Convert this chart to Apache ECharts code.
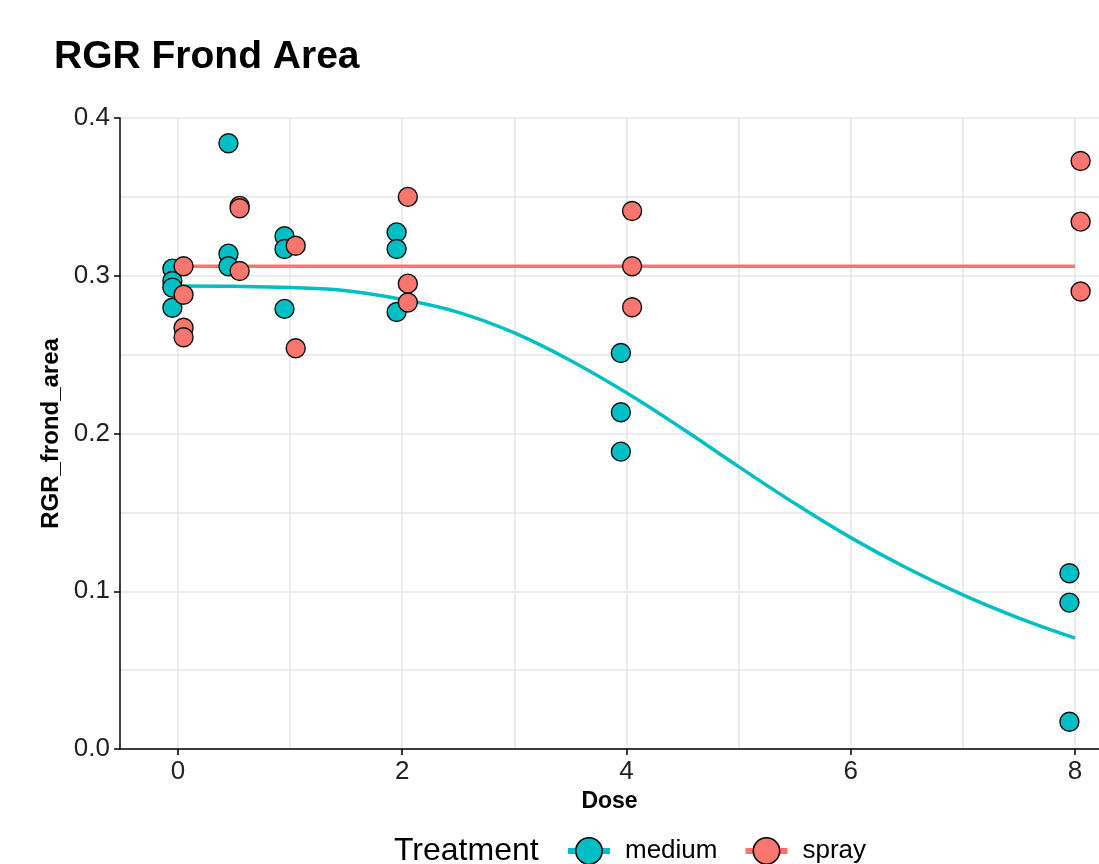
<!DOCTYPE html>
<html>
<head>
<meta charset="utf-8">
<script src="https://cdn.jsdelivr.net/npm/echarts@6/dist/echarts.min.js"></script>
<style>
html,body{margin:0;padding:0;background:#fff;}
#chart{width:1099px;height:864px;}
</style>
</head>
<body>
<div id="chart"></div>
<script>
// ---- data ----
var title = 'RGR Frond Area';
var xTickLabels = [0, 2, 4, 6, 8];
var xGrid = [0, 1, 2, 3, 4, 5, 6, 7, 8];
var yTickLabels = [0.0, 0.1, 0.2, 0.3, 0.4];

var mediumDose = [0, 0, 0, 0, 0.5, 0.5, 0.5, 1, 1, 1, 2, 2, 2, 4, 4, 4, 8, 8, 8];
var mediumRGR  = [0.3045, 0.2967, 0.2925, 0.2797, 0.384, 0.314, 0.306, 0.325, 0.317, 0.279,
                  0.3275, 0.317, 0.277, 0.251, 0.2135, 0.1885, 0.1114, 0.0928, 0.0173];

var sprayDose = [0, 0, 0, 0, 0.5, 0.5, 0.5, 1, 1, 2, 2, 2, 4, 4, 4, 8, 8, 8];
var sprayRGR  = [0.306, 0.288, 0.267, 0.261, 0.3443, 0.3428, 0.303, 0.319, 0.254,
                 0.350, 0.295, 0.283, 0.341, 0.306, 0.280, 0.3727, 0.3343, 0.290];

var mediumFitDose = [0, 0.5, 1, 1.5, 2, 2.5, 3, 3.5, 4, 4.5, 5, 5.5, 6, 6.5, 7, 7.5, 8];
var mediumFitRGR  = [0.2935, 0.2933, 0.2925, 0.2905, 0.2850, 0.2768, 0.2638, 0.2463, 0.2258,
                     0.2030, 0.1790, 0.1557, 0.1340, 0.1147, 0.0977, 0.0830, 0.0703];

var sprayFitDose = [0, 8];
var sprayFitRGR  = [0.306, 0.306];

var dodge = 0.05;
var colMedium = '#00BFC4';
var colSpray = '#F8766D';

function pairs(xs, ys, off) {
  return xs.map(function (x, i) { return [x + (off || 0), ys[i]]; });
}

var FONT = '"Liberation Sans", Arial, Helvetica, sans-serif';
var GRID = '#E6E6E6';
var chart = echarts.init(document.getElementById('chart'));
chart.setOption({
  backgroundColor: '#fff',
  animation: false,
  title: [
    { text: title, left: 49, top: 33,
      textStyle: { fontFamily: FONT, fontSize: 39, fontWeight: 'bold', color: '#000' } },
    { text: 'Treatment', left: 389, top: 830,
      textStyle: { fontFamily: FONT, fontSize: 32, fontWeight: 'normal', color: '#000' } }
  ],
  legend: {
    data: ['medium', 'spray'],
    left: 560, top: 832,
    orient: 'horizontal',
    itemWidth: 42, itemHeight: 33, itemGap: 25,
    lineStyle: { width: 6 },
    itemStyle: { borderColor: '#000', borderWidth: 1.5 },
    textStyle: { fontFamily: FONT, fontSize: 26, color: '#000', padding: [0, 0, 0, 10] }
  },
  grid: { left: 120, right: 0, top: 118, bottom: 115, containLabel: false },
  xAxis: [
    {
      type: 'value', min: -0.517, max: 8.214,
      name: 'Dose', nameLocation: 'middle', nameGap: 38,
      nameTextStyle: { fontFamily: FONT, fontSize: 23, fontWeight: 'bold', color: '#000' },
      axisLine: { show: true, onZero: false, lineStyle: { color: '#000', width: 1.5 } },
      axisTick: { show: false, customValues: xGrid },
      axisLabel: { customValues: xTickLabels, fontFamily: FONT, fontSize: 26, color: '#222', margin: 10,
                   formatter: function (v) { return String(Math.round(v)); } },
      splitLine: { show: true, lineStyle: { color: GRID, width: 1.5 } }
    },
    {
      type: 'value', min: -0.517, max: 8.214, position: 'bottom',
      axisLine: { show: false, onZero: false },
      axisTick: { show: true, customValues: xTickLabels, length: 6, lineStyle: { color: '#000', width: 1.5 } },
      axisLabel: { show: false },
      splitLine: { show: false }
    }
  ],
  yAxis: {
    type: 'value', min: 0, max: 0.4, interval: 0.1,
    name: 'RGR_frond_area', nameLocation: 'middle', nameGap: 47, nameRotate: 90,
    nameTextStyle: { fontFamily: FONT, fontSize: 24, fontWeight: 'bold', color: '#000' },
    axisLine: { show: true, onZero: false, lineStyle: { color: '#000', width: 1.5 } },
    axisTick: { show: true, length: 6, lineStyle: { color: '#000', width: 1.5 } },
    axisLabel: { fontFamily: FONT, fontSize: 26, color: '#222', margin: 10,
                 formatter: function (v) { return v.toFixed(1); } },
    splitLine: { show: true, lineStyle: { color: GRID, width: 1.5 } },
    minorTick: { show: false, splitNumber: 2 },
    minorSplitLine: { show: true, lineStyle: { color: GRID, width: 1.5 } }
  },
  series: [
    {
      name: 'medium', type: 'line', z: 2, smooth: 0.4,
      data: pairs(mediumFitDose, mediumFitRGR),
      symbol: 'circle', showSymbol: false, symbolSize: 18,
      itemStyle: { color: colMedium, borderColor: '#000', borderWidth: 1.5 },
      lineStyle: { color: colMedium, width: 3.5 }
    },
    {
      name: 'spray', type: 'line', z: 2,
      data: pairs(sprayFitDose, sprayFitRGR),
      symbol: 'circle', showSymbol: false, symbolSize: 18,
      itemStyle: { color: colSpray, borderColor: '#000', borderWidth: 1.5 },
      lineStyle: { color: colSpray, width: 3.5 }
    },
    {
      name: 'medium', type: 'scatter', z: 3,
      data: pairs(mediumDose, mediumRGR, -dodge),
      symbol: 'circle', symbolSize: 19,
      itemStyle: { color: colMedium, borderColor: '#111', borderWidth: 1.4, opacity: 1 }
    },
    {
      name: 'spray', type: 'scatter', z: 4,
      data: pairs(sprayDose, sprayRGR, dodge),
      symbol: 'circle', symbolSize: 19,
      itemStyle: { color: colSpray, borderColor: '#111', borderWidth: 1.4, opacity: 1 }
    }
  ]
});
</script>
</body>
</html>
